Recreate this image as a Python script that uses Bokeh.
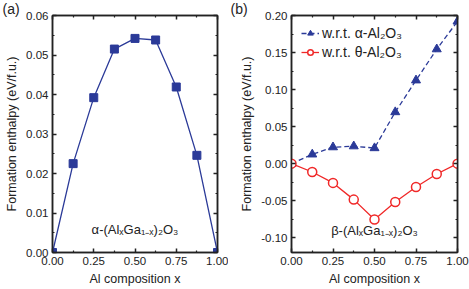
from bokeh.plotting import figure
from bokeh.layouts import row
from bokeh.models import LinearAxis, Range1d, FixedTicker, Label, Legend, LegendItem, NumeralTickFormatter
from bokeh.embed import file_html
from bokeh.resources import INLINE

x_comp = [0.0, 0.125, 0.25, 0.375, 0.5, 0.625, 0.75, 0.875, 1.0]
alpha_phase = [0.0, 0.0225, 0.0392, 0.0515, 0.0542, 0.0538, 0.0419, 0.0246, 0.0]
beta_wrt_alpha = [0.0, 0.0125, 0.0222, 0.0235, 0.021, 0.0696, 0.1125, 0.1545, 0.192]
beta_wrt_theta = [0.0, -0.0113, -0.026, -0.0486, -0.0755, -0.0518, -0.0316, -0.014, 0.0]

x_ticks = [0.0, 0.25, 0.5, 0.75, 1.0]
x_minor = [0.125, 0.375, 0.625, 0.875]
ya_ticks = [0.0, 0.01, 0.02, 0.03, 0.04, 0.05, 0.06]
ya_minor = [0.005, 0.015, 0.025, 0.035, 0.045, 0.055]
yb_ticks = [-0.10, -0.05, 0.0, 0.05, 0.10, 0.15, 0.20]
yb_minor = [-0.125, -0.075, -0.025, 0.025, 0.075, 0.125, 0.175]

BLUE = "#2B3A98"
RED = "#F02828"
FONT = "Liberation Sans"
INK = "#222222"


def style_axis(ax, ticks, minor, fmt, show_labels=True):
    ax.ticker = FixedTicker(ticks=ticks, minor_ticks=minor)
    ax.formatter = NumeralTickFormatter(format=fmt)
    ax.major_tick_in = 4
    ax.major_tick_out = 0
    ax.minor_tick_in = 2
    ax.minor_tick_out = 0
    ax.major_tick_line_color = INK
    ax.minor_tick_line_color = INK
    ax.major_tick_line_width = 1.5
    ax.minor_tick_line_width = 1.2
    ax.axis_line_color = INK
    ax.axis_line_width = 1.5
    ax.major_label_text_font = FONT
    ax.major_label_text_font_size = "11.5px"
    ax.major_label_text_color = INK
    ax.major_label_standoff = 4
    ax.axis_label_text_font = FONT
    ax.axis_label_text_font_size = "12.5px"
    ax.axis_label_text_font_style = "normal"
    ax.axis_label_text_color = INK
    ax.axis_label_standoff = 4
    if not show_labels:
        ax.major_label_overrides = {t: "" for t in ticks}
        ax.major_label_text_font_size = "0px"
        ax.major_label_standoff = 0
        ax.axis_label = None


def make_fig(width, left_border, right_border, yr, yticks, yminor, yfmt, tag):
    p = figure(width=width, height=288, x_range=Range1d(0, 1), y_range=Range1d(*yr),
               output_backend="svg", toolbar_location=None,
               min_border_left=left_border, min_border_right=right_border,
               min_border_top=0, min_border_bottom=36)
    p.title.text = tag
    p.title.align = "left"
    p.title.offset = -left_border + 2
    p.title.text_font = FONT
    p.title.text_font_size = "14px"
    p.title.text_font_style = "normal"
    p.title.text_color = INK
    p.title.standoff = -3
    p.xgrid.visible = False
    p.ygrid.visible = False
    p.outline_line_color = INK
    p.outline_line_width = 1.5
    p.xaxis.axis_label = "Al composition x"
    p.yaxis.axis_label = "Formation enthalpy (eV/f.u.)"
    style_axis(p.xaxis[0], x_ticks, x_minor, "0.00")
    style_axis(p.yaxis[0], yticks, yminor, yfmt)
    top = LinearAxis()
    style_axis(top, x_ticks, x_minor, "0.00", show_labels=False)
    p.add_layout(top, "above")
    right = LinearAxis()
    style_axis(right, yticks, yminor, yfmt, show_labels=False)
    p.add_layout(right, "right")
    return p


pa = make_fig(228, 52, 11, (0, 0.06), ya_ticks, ya_minor, "0.00", "(a)")
pa.line(x_comp, alpha_phase, line_color=BLUE, line_width=1.3)
pa.scatter(x_comp, alpha_phase, marker="square", size=8, fill_color=BLUE, line_color=BLUE)
pa.add_layout(Label(x=0.5, y=0.0057, text="α-(AlₓGa₁₋ₓ)₂O₃", text_align="center",
                    text_baseline="middle", text_font=FONT, text_font_size="13px",
                    text_color=INK))

pb = make_fig(241, 63, 12, (-0.12, 0.2), yb_ticks, yb_minor, "0.00", "(b)")
la = pb.line(x_comp, beta_wrt_alpha, line_color=BLUE, line_width=1.3, line_dash="5 3")
sa = pb.scatter(x_comp, beta_wrt_alpha, marker="triangle", size=9, fill_color=BLUE, line_color=BLUE)
lt = pb.line(x_comp, beta_wrt_theta, line_color=RED, line_width=1.3)
st = pb.scatter(x_comp, beta_wrt_theta, marker="circle", size=9, fill_color="white",
                line_color=RED, line_width=1.5)
pb.add_layout(Label(x=0.5, y=-0.09, text="β-(AlₓGa₁₋ₓ)₂O₃", text_align="center",
                    text_baseline="middle", text_font=FONT, text_font_size="13px",
                    text_color=INK))

legend = Legend(items=[LegendItem(label="w.r.t. α-Al₂O₃", renderers=[la, sa]),
                       LegendItem(label="w.r.t. θ-Al₂O₃", renderers=[lt, st])],
                location="top_left", border_line_alpha=0, background_fill_alpha=0,
                label_text_font=FONT, label_text_font_size="14px", label_text_color=INK,
                glyph_width=18, glyph_height=14, label_height=14, spacing=3,
                padding=4, margin=6, label_standoff=3)
pb.add_layout(legend)

p = row(pa, pb)
open("out.html", "w").write(file_html(p, INLINE))
